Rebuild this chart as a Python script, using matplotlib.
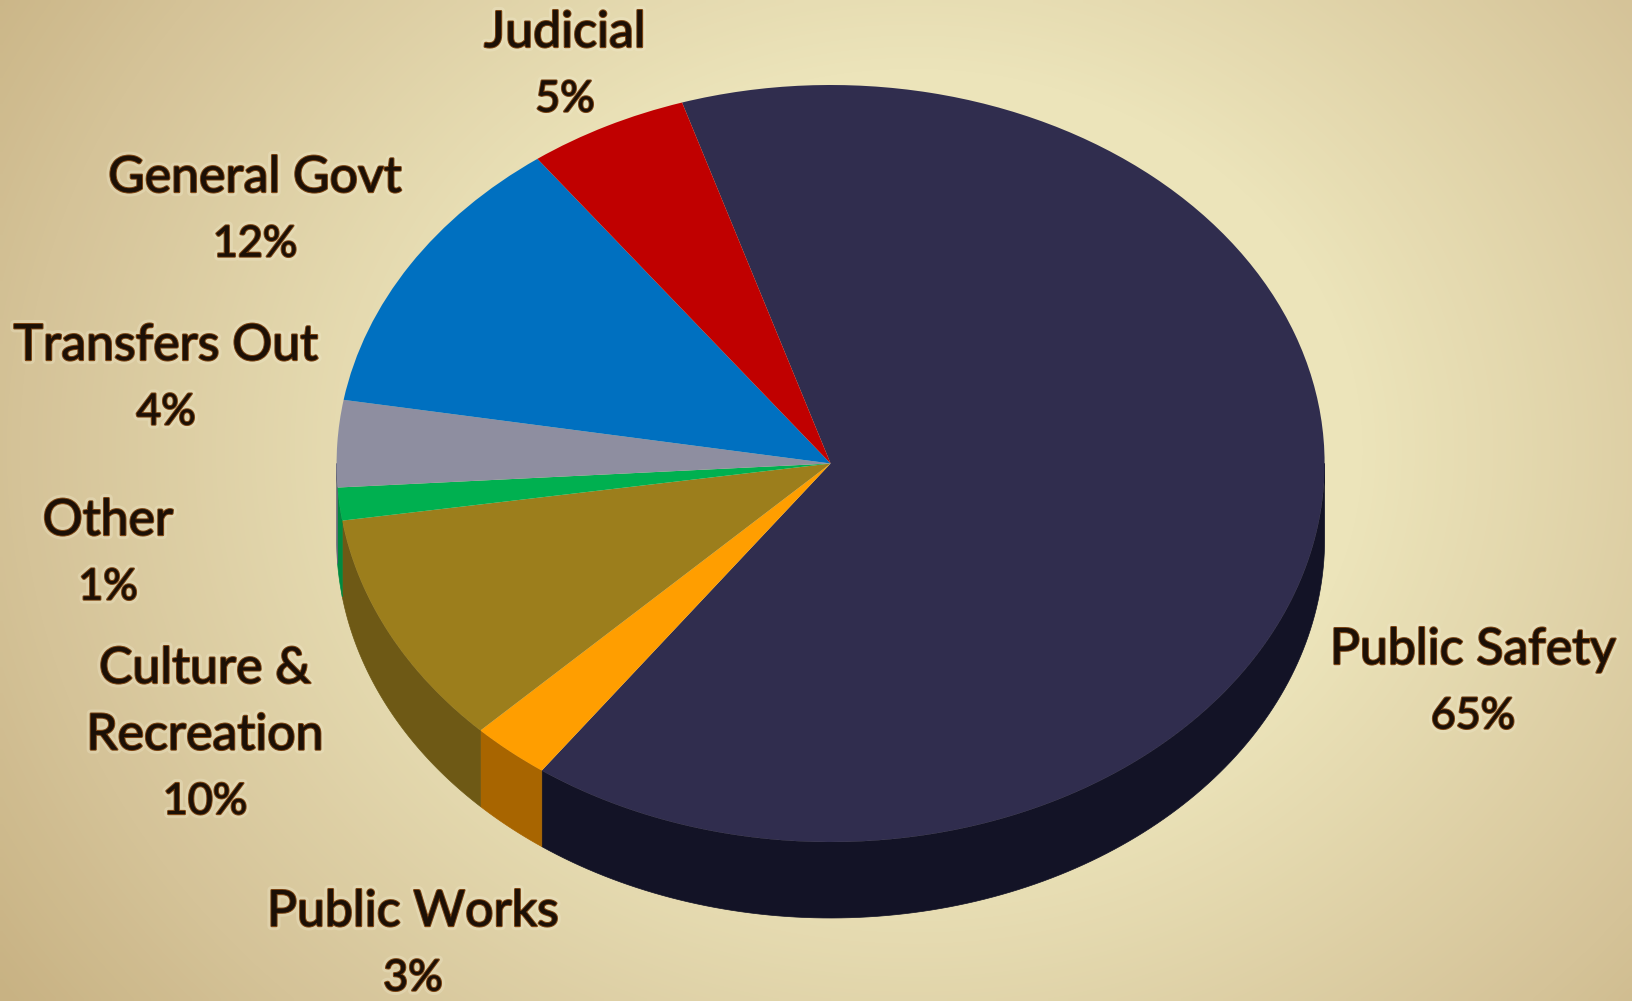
import numpy as np
import matplotlib
matplotlib.use("Agg")
import matplotlib.pyplot as plt
import matplotlib.patheffects as pe
from matplotlib.colors import LinearSegmentedColormap

W, H = 1632, 1001
categories = ["Public Safety", "Public Works", "Culture & Recreation", "Other",
              "Transfers Out", "General Govt", "Judicial"]
shares = [64.8, 2.6, 10.05, 1.4, 3.7, 12.2, 5.25]
top_colors = ["#302d4e", "#ff9e00", "#9c7e1c", "#00b050", "#8e8ea0", "#0070c0", "#c00000"]
wall_colors = ["#131326", "#a86500", "#6e5915", "#008a40", "#666678", "#005088", "#880000"]
label_lines = [["Public Safety", "65%"], ["Public Works", "3%"], ["Culture &", "Recreation", "10%"],
               ["Other", "1%"], ["Transfers Out", "4%"], ["General Govt", "12%"], ["Judicial", "5%"]]
label_x = [1473, 413, 205, 108, 166, 255, 565]
label_y = [650, 912, 669, 521, 346, 178, 33]

cx, cy, rx, ry, depth, pitch = 830.6, 463.5, 494.0, 378.5, 76.0, 66.5
start_angle = 107.5

fig = plt.figure(figsize=(W / 100, H / 100), dpi=100)

# background gradient
bg = fig.add_axes([0, 0, 1, 1])
yy, xx = np.mgrid[0:1:200j, 0:1:320j]
r = np.sqrt(((xx - 0.56) / 0.56) ** 2 + 0.5 * ((yy - 0.45) / 0.55) ** 2)
cmap = LinearSegmentedColormap.from_list("bg", [(0, "#f0e9c2"), (0.4, "#ece4ba"),
                                                (0.8, "#d5c398"), (1, "#c8b283")])
bg.imshow(r / r.max(), cmap=cmap, vmin=0, vmax=1, aspect="auto", interpolation="bilinear")
bg.axis("off")

# pie axes: one data unit is one radius on each axis, so the circle renders as the ellipse
ax = fig.add_axes([0, 0, 1, 1], facecolor="none")
d = depth / ry
cum = np.cumsum([0] + shares)
for i, (a, b) in enumerate(zip(cum[:-1], cum[1:])):
    t0 = start_angle - a * 3.6
    t1 = start_angle - b * 3.6
    # keep the part of the wedge on the front half of the rim
    lo, hi = t1 % 360, (t1 % 360) + (t0 - t1)
    for shift in (0, 360, -360):
        l2, h2 = max(lo + shift, 180), min(hi + shift, 360)
        if h2 > l2:
            th = np.radians(np.linspace(l2, h2, 120))
            x = np.cos(th)
            y = np.sin(th)
            ax.fill(np.r_[x, x[::-1]], np.r_[y, y[::-1] - d], color=wall_colors[i], lw=0.5, zorder=1)

ax.pie(shares, colors=top_colors, startangle=start_angle, counterclock=False, radius=1,
       wedgeprops=dict(linewidth=0.5, zorder=2))
ax.set_aspect("auto")
ax.set_xlim(-cx / rx, (W - cx) / rx)
ax.set_ylim(-(H - cy) / ry, cy / ry)
ax.axis("off")

# labels
effects = [pe.withStroke(linewidth=6, foreground="#f2ecd0", alpha=0.3),
           pe.withStroke(linewidth=1.7, foreground="#7a4312"),
           pe.Normal()]
for lines, lx, ly in zip(label_lines, label_x, label_y):
    for k, s in enumerate(lines):
        size = 31 if s.endswith("%") else 36
        fig.text(lx / W, 1 - (ly + k * pitch) / H, s, ha="center", va="center",
                 family="Lato", fontsize=size, color="#1c1006", path_effects=effects)

fig.savefig("out.png", dpi=100)
